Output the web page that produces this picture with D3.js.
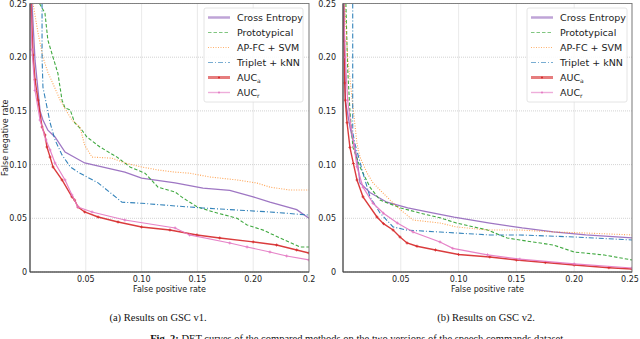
<!DOCTYPE html>
<html>
<head>
<meta charset="utf-8">
<script src="https://cdn.jsdelivr.net/npm/d3@7"></script>
<style>
  body { margin: 0; background: #fff; }
  svg { display: block; }
  .tick-label { font-family: "DejaVu Sans", sans-serif; font-size: 8px; fill: #222; }
  .axis-title { font-family: "DejaVu Sans", sans-serif; font-size: 8px; fill: #222; }
  .legend-text { font-family: "DejaVu Sans", sans-serif; font-size: 9.5px; fill: #222; }
  .caption { font-family: "Liberation Serif", serif; font-size: 10.5px; fill: #111; }
</style>
</head>
<body>
<svg id="chart" width="640" height="339"></svg>
<script>
// tick labels
const yTicks = [0, 0.05, 0.10, 0.15, 0.20, 0.25];
const yTickLabels = ["0", "0.05", "0.10", "0.15", "0.20", "0.25"];
const xTicksV1 = [0.05, 0.10, 0.15, 0.20, 0.25];
const xTickLabelsV1 = ["0.05", "0.10", "0.15", "0.20", "0.2"];
const xTicksV2 = [0.05, 0.10, 0.15, 0.20, 0.25];
const xTickLabelsV2 = ["0.05", "0.10", "0.15", "0.20", "0.25"];

const methods = ["Cross Entropy", "Prototypical", "AP-FC + SVM", "Triplet + kNN", "AUCa", "AUCr"];

// GSC v1 : [false positive rate, false negative rate]
const ceV1 = [[0.0018,0.25],[0.0045,0.197],[0.009,0.150],[0.0116,0.1415],[0.016,0.132],[0.0224,0.1257],[0.0314,0.1117],[0.049,0.1015],[0.0645,0.0978],[0.085,0.093],[0.100,0.0875],[0.130,0.0829],[0.155,0.078],[0.179,0.076],[0.200,0.070],[0.215,0.065],[0.239,0.058],[0.25,0.050]];
const protoV1 = [[0.0085,0.25],[0.0134,0.241],[0.016,0.216],[0.0206,0.200],[0.025,0.185],[0.0287,0.160],[0.0314,0.1527],[0.036,0.151],[0.040,0.139],[0.0466,0.132],[0.051,0.1257],[0.0627,0.1164],[0.078,0.107],[0.0896,0.0978],[0.103,0.092],[0.1147,0.079],[0.130,0.0745],[0.137,0.069],[0.150,0.0605],[0.164,0.056],[0.1855,0.050],[0.1945,0.0438],[0.209,0.039],[0.224,0.0317],[0.242,0.0233],[0.25,0.0233]];
const apfcV1 = [[0.0027,0.25],[0.0072,0.2225],[0.0116,0.200],[0.016,0.186],[0.0224,0.171],[0.027,0.160],[0.032,0.151],[0.0376,0.1415],[0.0448,0.135],[0.049,0.118],[0.0556,0.107],[0.0735,0.106],[0.085,0.1015],[0.100,0.0978],[0.1147,0.095],[0.130,0.093],[0.143,0.092],[0.161,0.0885],[0.1855,0.0857],[0.203,0.0829],[0.215,0.079],[0.233,0.0763],[0.25,0.0763]];
const tripletV1 = [[0.0108,0.25],[0.0108,0.200],[0.0116,0.172],[0.0152,0.1536],[0.018,0.139],[0.0224,0.123],[0.0287,0.109],[0.036,0.098],[0.043,0.093],[0.061,0.083],[0.0824,0.065],[0.100,0.064],[0.130,0.0615],[0.155,0.0596],[0.1855,0.0577],[0.215,0.0559],[0.25,0.053]];
const aucaV1 = [[0.0009,0.25],[0.0027,0.202],[0.0045,0.179],[0.0072,0.160],[0.0108,0.135],[0.0134,0.1276],[0.0152,0.1164],[0.018,0.107],[0.0206,0.0978],[0.0287,0.0857],[0.0376,0.070],[0.040,0.067],[0.043,0.0605],[0.049,0.0559],[0.061,0.0512],[0.0789,0.0466],[0.100,0.0419],[0.1254,0.0391],[0.1496,0.0345],[0.170,0.0317],[0.200,0.028],[0.221,0.0251],[0.239,0.0205],[0.25,0.0177]];
const aucrV1 = [[0.0005,0.25],[0.0018,0.207],[0.0045,0.169],[0.009,0.1415],[0.0143,0.123],[0.018,0.1136],[0.0224,0.1015],[0.0314,0.0857],[0.0376,0.0717],[0.043,0.0605],[0.0556,0.0559],[0.085,0.0484],[0.130,0.041],[0.143,0.0345],[0.179,0.027],[0.1945,0.0233],[0.215,0.0186],[0.230,0.0149],[0.25,0.0112]];

// GSC v2
const ceV2 = [[0.0008,0.25],[0.002,0.16],[0.006,0.135],[0.012,0.107],[0.0147,0.0829],[0.0233,0.074],[0.038,0.065],[0.056,0.0596],[0.073,0.0559],[0.096,0.051],[0.127,0.0456],[0.155,0.041],[0.182,0.0373],[0.21,0.0345],[0.25,0.0317]];
const protoV2 = [[0.0025,0.25],[0.004,0.19],[0.006,0.15],[0.0086,0.116],[0.0147,0.0978],[0.0233,0.079],[0.032,0.067],[0.05,0.0596],[0.0666,0.0549],[0.0839,0.0505],[0.098,0.0456],[0.125,0.0391],[0.142,0.0317],[0.153,0.0298],[0.182,0.0251],[0.2,0.0186],[0.226,0.0158],[0.25,0.0112]];
const apfcV2 = [[0.0015,0.25],[0.004,0.2],[0.008,0.16],[0.012,0.1204],[0.0147,0.107],[0.0208,0.0922],[0.026,0.0829],[0.0407,0.067],[0.05,0.0577],[0.0606,0.0484],[0.0839,0.0456],[0.098,0.042],[0.125,0.0391],[0.153,0.0391],[0.182,0.0373],[0.21,0.0363],[0.25,0.0345]];
const tripletV2 = [[0.0084,0.25],[0.0084,0.13],[0.0104,0.1192],[0.0173,0.092],[0.0233,0.070],[0.032,0.055],[0.0433,0.042],[0.0554,0.039],[0.084,0.0372],[0.127,0.0345],[0.153,0.0345],[0.2,0.0326],[0.25,0.0298]];
const aucaV2 = [[0.0005,0.25],[0.001,0.215],[0.0015,0.176],[0.002,0.16],[0.0035,0.139],[0.006,0.116],[0.009,0.101],[0.0121,0.0857],[0.0173,0.070],[0.0294,0.0512],[0.035,0.045],[0.0433,0.0391],[0.0493,0.0326],[0.0554,0.027],[0.064,0.024],[0.08,0.0205],[0.1,0.0163],[0.127,0.014],[0.15,0.0112],[0.175,0.0088],[0.2,0.0065],[0.23,0.004],[0.25,0.0028]];
const aucrV2 = [[0.0005,0.25],[0.002,0.2],[0.004,0.16],[0.007,0.135],[0.0095,0.118],[0.0121,0.098],[0.0173,0.079],[0.026,0.064],[0.035,0.0547],[0.047,0.0456],[0.0606,0.0373],[0.0839,0.028],[0.095,0.022],[0.125,0.016],[0.153,0.012],[0.2,0.0075],[0.25,0.0037]];

const styles = [
  {color: "#9467bd", width: 1.3, dash: null, legendWidth: 2.5},
  {color: "#2ca02c", width: 1.1, dash: "3.5,2", legendWidth: 1.2},
  {color: "#ff7f0e", width: 1.1, dash: "1,1.5", legendWidth: 1.2, opacity: 0.7},
  {color: "#1f77b4", width: 1.1, dash: "5,2,1,2", legendWidth: 1.2},
  {color: "#d62728", width: 1.4, dash: null, legendWidth: 3, marker: true},
  {color: "#e377c2", width: 1.2, dash: null, legendWidth: 1.4, marker: true}
];

const panels = [
  {left: 30, right: 309, series: [ceV1, protoV1, apfcV1, tripletV1, aucaV1, aucrV1],
   xTicks: xTicksV1, xLabels: xTickLabelsV1, yTitle: true, yLabelGap: 3,
   caption: "(a) Results on GSC v1.", captionX: 158,
   legend: {x: 204, y: 8, w: 99, h: 94}},
  {left: 343, right: 632, series: [ceV2, protoV2, apfcV2, tripletV2, aucaV2, aucrV2],
   xTicks: xTicksV2, xLabels: xTickLabelsV2, yTitle: false, yLabelGap: 7,
   caption: "(b) Results on GSC v2.", captionX: 486,
   legend: {x: 527, y: 8, w: 100, h: 94}}
];

const plotTop = 3.5, plotBottom = 272;
const svg = d3.select("#chart");

panels.forEach((p, pi) => {
  const x = d3.scaleLinear().domain([0, 0.25]).range([p.left, p.right]);
  const y = d3.scaleLinear().domain([0, 0.25]).range([plotBottom, plotTop]);
  const g = svg.append("g");
  const clipId = "clip" + pi;
  svg.append("clipPath").attr("id", clipId).append("rect")
    .attr("x", p.left).attr("y", plotTop).attr("width", p.right - p.left).attr("height", plotBottom - plotTop);

  // grid
  g.selectAll(".gx").data(p.xTicks).enter().append("line")
    .attr("x1", d => x(d)).attr("x2", d => x(d)).attr("y1", plotTop).attr("y2", plotBottom)
    .attr("stroke", "#c8c8c8").attr("stroke-width", 0.8).attr("stroke-dasharray", "1,1");
  g.selectAll(".gy").data(yTicks).enter().append("line")
    .attr("x1", p.left).attr("x2", p.right).attr("y1", d => y(d)).attr("y2", d => y(d))
    .attr("stroke", "#c8c8c8").attr("stroke-width", 0.8).attr("stroke-dasharray", "1,1");

  // curves
  const line = d3.line().x(d => x(d[0])).y(d => y(d[1]));
  const curves = g.append("g").attr("clip-path", `url(#${clipId})`);
  p.series.forEach((s, i) => {
    const st = styles[i];
    curves.append("path").datum(s)
      .attr("d", line).attr("fill", "none")
      .attr("stroke", st.color).attr("stroke-width", st.width)
      .attr("stroke-opacity", st.opacity || 0.9)
      .attr("stroke-dasharray", st.dash);
    if (st.marker) {
      curves.selectAll(null).data(s).enter().append("path")
        .attr("d", d => `M${x(d[0]) - 1.5},${y(d[1])}h3M${x(d[0])},${y(d[1]) - 1.5}v3`)
        .attr("stroke", st.color).attr("stroke-width", 0.8);
    }
  });

  // frame
  g.append("rect").attr("x", p.left).attr("y", plotTop)
    .attr("width", p.right - p.left).attr("height", plotBottom - plotTop)
    .attr("fill", "none").attr("stroke", "#777").attr("stroke-width", 0.9);
  g.append("line").attr("x1", p.left).attr("x2", p.left).attr("y1", plotTop).attr("y2", plotBottom)
    .attr("stroke", "#444").attr("stroke-width", 1);
  g.append("line").attr("x1", p.left).attr("x2", p.right).attr("y1", plotBottom).attr("y2", plotBottom)
    .attr("stroke", "#444").attr("stroke-width", 1);

  // tick labels
  g.selectAll(".yl").data(yTicks).enter().append("text")
    .attr("class", "tick-label").attr("x", p.left - p.yLabelGap).attr("y", d => y(d) + 3)
    .attr("text-anchor", "end").text((d, i) => yTickLabels[i]);
  g.selectAll(".xl").data(p.xTicks).enter().append("text")
    .attr("class", "tick-label").attr("x", d => Math.min(x(d), 630)).attr("y", plotBottom + 10)
    .attr("text-anchor", "middle").text((d, i) => p.xLabels[i]);

  g.append("text").attr("class", "axis-title")
    .attr("x", (p.left + p.right) / 2).attr("y", plotBottom + 20)
    .attr("text-anchor", "middle").text("False positive rate");
  if (p.yTitle) {
    g.append("text").attr("class", "axis-title")
      .attr("transform", `translate(8,${(plotTop + plotBottom) / 2}) rotate(-90)`)
      .attr("text-anchor", "middle").text("False negative rate");
  }

  // legend
  const L = p.legend;
  const lg = g.append("g");
  lg.append("rect").attr("x", L.x).attr("y", L.y).attr("width", L.w).attr("height", L.h)
    .attr("rx", 2).attr("fill", "#fff").attr("fill-opacity", 0.85)
    .attr("stroke", "#ddd").attr("stroke-width", 0.8);
  methods.forEach((m, i) => {
    const st = styles[i];
    const ly = L.y + 9.5 + i * 15;
    lg.append("line").attr("x1", L.x + 4).attr("x2", L.x + 26).attr("y1", ly).attr("y2", ly)
      .attr("stroke", st.color).attr("stroke-width", st.legendWidth)
      .attr("stroke-opacity", 0.6).attr("stroke-dasharray", st.dash);
    if (st.marker) {
      lg.append("circle").attr("cx", L.x + 15).attr("cy", ly).attr("r", 1).attr("fill", st.color);
    }
    const t = lg.append("text").attr("class", "legend-text").attr("x", L.x + 33).attr("y", ly + 3.3);
    if (m.startsWith("AUC")) {
      t.append("tspan").text("AUC");
      t.append("tspan").attr("font-size", "6px").attr("dy", 2).text(m.slice(3));
    } else {
      t.text(m);
    }
  });

  svg.append("text").attr("class", "caption")
    .attr("x", p.captionX).attr("y", 321)
    .attr("text-anchor", "middle").text(p.caption);
});

svg.append("text").attr("class", "caption")
  .attr("x", 358).attr("y", 342).attr("text-anchor", "middle")
  .html('<tspan font-weight="bold">Fig. 2:</tspan> DET curves of the compared methods on the two versions of the speech commands dataset.');
</script>
</body>
</html>
